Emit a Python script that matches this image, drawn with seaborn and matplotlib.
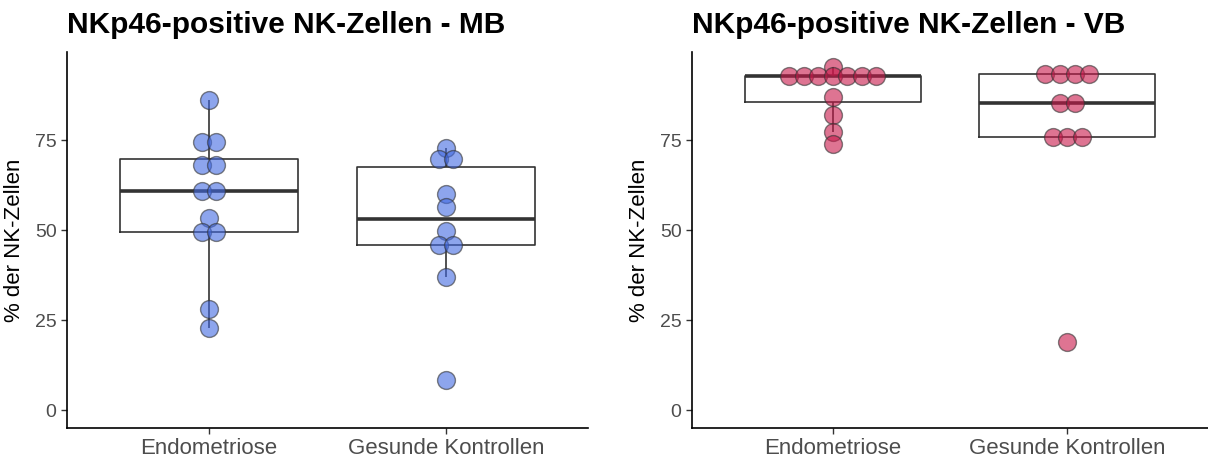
import numpy as np
import pandas as pd
import matplotlib
matplotlib.use("Agg")
import matplotlib.pyplot as plt
import seaborn as sns

# ---- data ----
categories = ["Endometriose", "Gesunde Kontrollen"]
mb_endometriose = [86.2, 74.5, 74.5, 68.2, 68.2, 61.0, 61.0, 53.3, 49.6, 49.6, 28.1, 22.7]
mb_kontrollen = [72.7, 69.9, 69.9, 60.1, 56.3, 49.7, 45.8, 45.8, 36.9, 8.3]
vb_endometriose = [95.2, 92.9, 92.9, 92.9, 92.9, 92.9, 92.9, 92.9, 86.9, 82.1, 77.3, 73.9]
vb_kontrollen = [93.5, 93.5, 93.5, 93.5, 85.4, 85.4, 75.9, 75.9, 75.9, 19.0]
titles = ["NKp46-positive NK-Zellen - MB", "NKp46-positive NK-Zellen - VB"]
y_label = "% der NK-Zellen"
y_ticks = [0, 25, 50, 75]
dot_colors = ["#4169E1", "#C8184A"]

sns.set_theme(style="ticks")
plt.rcParams["font.family"] = ["Liberation Sans", "DejaVu Sans"]


def dot_offsets(values, spacing):
    vals = np.asarray(values, dtype=float)
    off = np.zeros(len(vals))
    for v in np.unique(vals):
        idx = np.where(vals == v)[0]
        n = len(idx)
        off[idx] = (np.arange(n) - (n - 1) / 2) * spacing
    return off


def make_df(endo, kontr):
    rows = []
    for ci, (cat, vals) in enumerate(zip(categories, [endo, kontr])):
        offs = dot_offsets(vals, 0.062)
        for v, o in zip(vals, offs):
            rows.append({"group": cat, "value": v, "xpos": ci + o})
    return pd.DataFrame(rows)


fig = plt.figure(figsize=(12.08, 4.59), dpi=100)
W, H = 1208, 459
axes_px = [(67, 521), (692, 516)]
datasets = [make_df(mb_endometriose, mb_kontrollen), make_df(vb_endometriose, vb_kontrollen)]

for i, (df, (left, width)) in enumerate(zip(datasets, axes_px)):
    ax = fig.add_axes([left / W, 31 / H, width / W, 376 / H])
    sns.boxplot(
        data=df, x="group", y="value", order=categories, ax=ax,
        width=0.75, fill=False, color="#333333", linewidth=1.2,
        showfliers=False, showcaps=False, whis=1.5,
        medianprops=dict(linewidth=2.6, color="#333333"),
    )
    sns.scatterplot(
        x=df["xpos"], y=df["value"], ax=ax, s=165, color=dot_colors[i],
        alpha=0.6, edgecolor="#333333", linewidth=1.0, zorder=5, legend=False,
    )
    ax.set_xlim(-0.6, 1.6)
    ax.set_ylim(-5, 99.5)
    ax.set_yticks(y_ticks)
    ax.set_xticks([0, 1])
    ax.set_xticklabels(categories, fontsize=16, color="#4D4D4D")
    ax.tick_params(axis="y", labelsize=14, labelcolor="#4D4D4D", length=4, width=1, color="#333333")
    ax.tick_params(axis="x", length=4, width=1, color="#333333", pad=3)
    ax.set_xlabel("")
    ax.set_ylabel(y_label, fontsize=16, color="black", labelpad=7)
    ax.set_title(titles[i], loc="left", fontsize=21.5, fontweight="bold", color="black", pad=14)
    for s in ["top", "right"]:
        ax.spines[s].set_visible(False)
    for s in ["left", "bottom"]:
        ax.spines[s].set_color("black")
        ax.spines[s].set_linewidth(1.2)

fig.savefig("out.png", dpi=100)
